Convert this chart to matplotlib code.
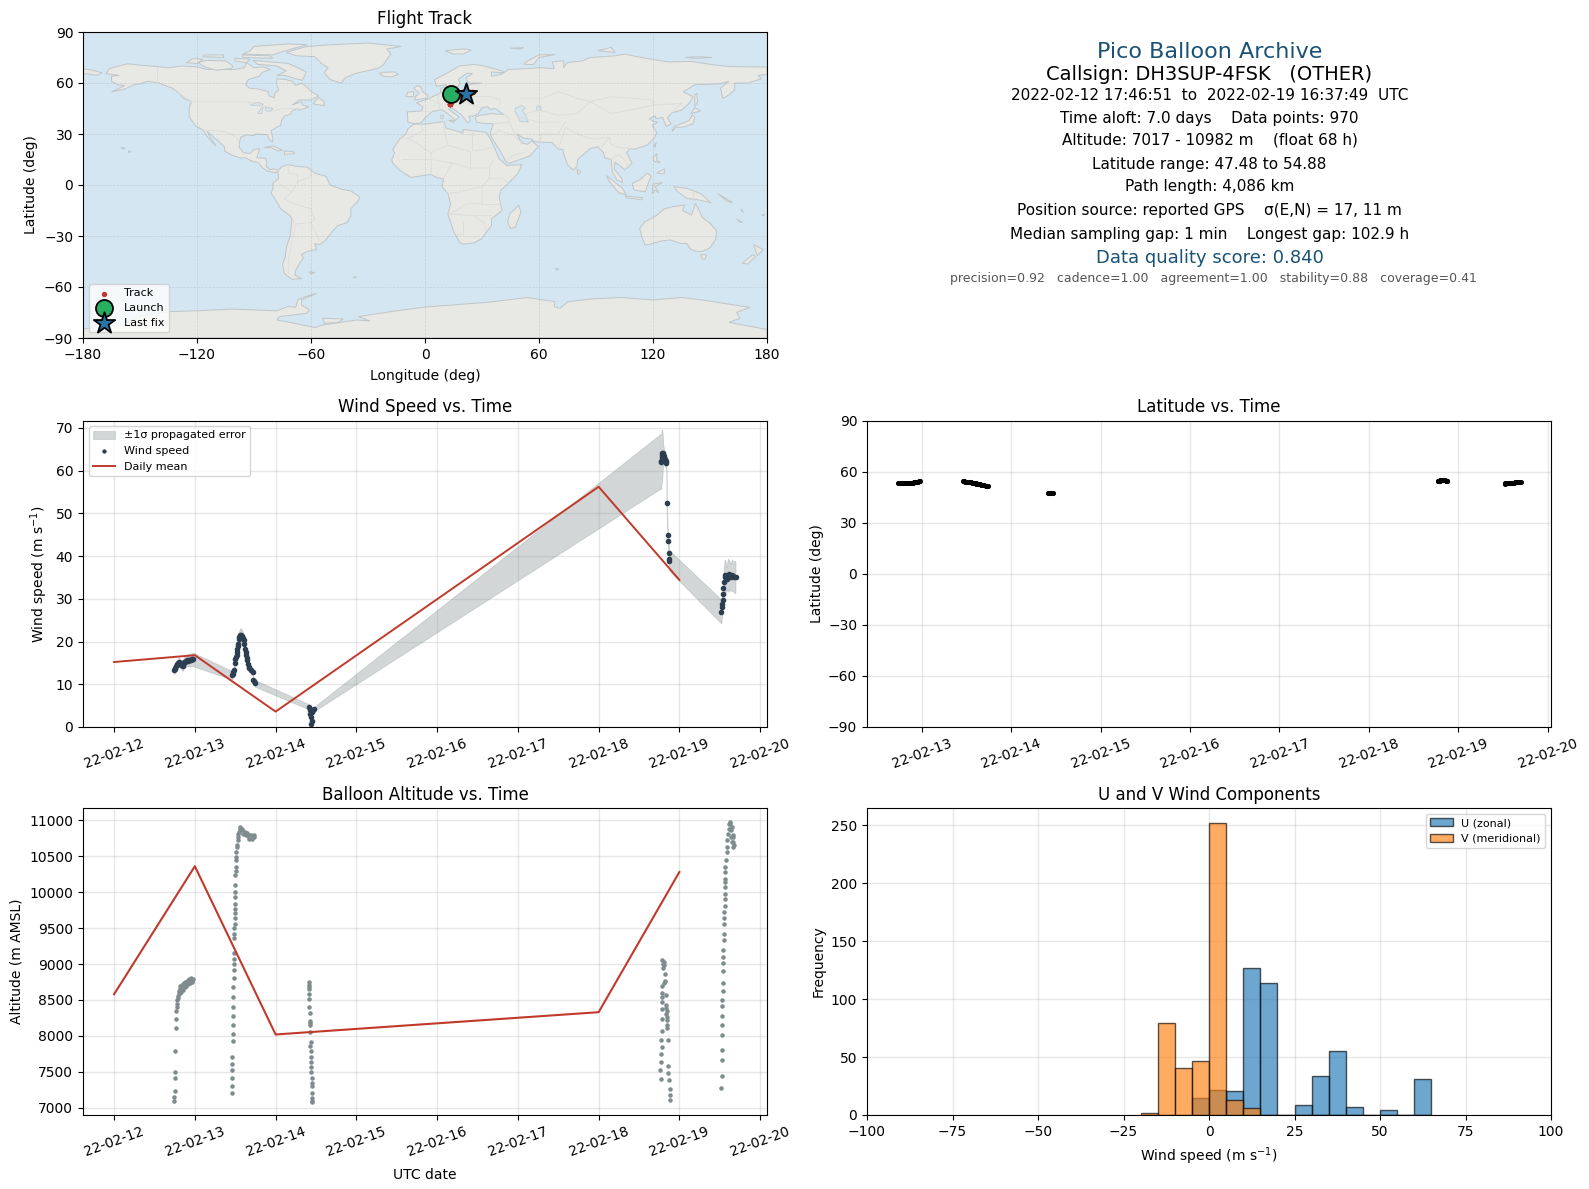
import datetime as dt
import numpy as np
import matplotlib
matplotlib.use("Agg")
import matplotlib.pyplot as plt
import matplotlib.dates as mdates
from matplotlib.patches import Polygon

# ---------- flight samples (day of February 2022) ----------
sample_days = [12.74,12.75,12.76,12.77,12.78,12.79,12.80,12.81,12.82,12.83,12.84,12.85,12.86,12.87,12.88,12.89,12.90,12.91,12.92,12.93,12.94,12.95,12.96,12.97,12.98,
               13.461,13.47,13.477,13.49,13.498,13.502,13.51,13.519,13.523,13.527,13.531,13.535,13.543,13.551,13.564,13.572,13.584,13.593,13.605,13.613,13.621,13.628,13.634,13.64,13.646,13.654,13.667,13.675,13.695,13.716,13.72,13.733,13.745,
               14.415,14.42,14.425,14.43,14.435,14.44,14.445,14.45,14.46,14.47,
               18.77,18.775,18.78,18.785,18.79,18.795,18.80,18.81,18.82,18.83,18.84,18.842,18.855,18.857,18.87,18.873,18.877,
               19.52,19.525,19.53,19.535,19.54,19.545,19.55,19.56,19.57,19.585,19.60,19.61,19.62,19.635,19.65,19.665,19.68,19.695]
wind_speed = [13.4,13.6,13.9,14.2,14.7,15.0,15.2,15.0,14.8,14.6,14.4,14.3,14.9,15.2,15.3,15.4,15.6,15.5,15.7,15.6,15.6,15.7,15.8,15.9,15.8,
              12.1,12.4,12.8,13.3,15.0,16.0,16.4,16.8,17.5,18.2,18.9,19.5,20.5,21.1,21.5,21.5,21.2,20.9,20.3,19.5,18.2,17.5,16.8,16.2,15.6,14.8,14.1,13.7,13.3,12.9,11.1,10.7,10.2,
              4.7,4.3,3.9,3.0,2.3,0.8,1.5,3.6,3.9,4.1,
              62.2,62.0,63.2,63.6,64.0,64.2,63.8,63.3,62.8,62.2,61.7,52.3,44.9,43.5,40.7,39.4,38.9,
              27.0,28.1,28.8,29.7,31.0,32.4,34.0,35.5,35.0,34.7,35.5,35.9,35.3,35.1,35.5,35.3,35.1,35.1]
wind_sigma = [1.0,1.0,1.0,1.0,1.0,1.0,1.1,1.1,1.1,1.1,1.2,1.2,1.2,1.2,1.3,1.3,1.3,1.4,1.4,1.4,1.5,1.5,1.5,1.5,1.6,
              1.0,1.0,1.0,1.1,1.1,1.2,1.2,1.2,1.2,1.3,1.3,1.3,1.4,1.5,1.6,1.6,1.5,1.4,1.3,1.3,1.2,1.2,1.1,1.1,1.1,1.0,1.0,1.0,0.9,0.9,0.8,0.8,0.8,
              0.6,0.6,0.5,0.4,0.3,0.2,0.2,0.5,0.5,0.5,
              6.4,6.4,6.2,6.0,5.2,3.8,2.5,1.6,1.6,1.5,1.4,1.4,1.3,1.3,1.8,2.4,2.4,
              2.8,2.6,2.5,2.5,2.7,3.0,3.5,3.6,4.0,2.6,3.9,3.2,3.6,3.0,3.7,3.5,3.8,3.6]
latitude = [53.4,53.4,53.4,53.3,53.4,53.4,53.4,53.3,53.4,53.4,53.4,53.4,53.4,53.4,53.5,53.5,53.5,53.6,53.6,53.7,53.8,53.9,54.0,54.2,54.3,
            54.2,54.2,54.2,54.1,54.0,54.0,54.0,53.9,53.9,53.8,53.8,53.8,53.7,53.6,53.5,53.4,53.3,53.2,53.1,53.0,52.9,52.9,52.8,52.7,52.6,52.5,52.3,52.2,52.0,51.8,51.7,51.5,51.3,
            47.5,47.5,47.5,47.5,47.5,47.5,47.6,47.6,47.6,47.6,
            54.6,54.7,54.7,54.7,54.7,54.8,54.8,54.8,54.8,54.8,54.8,54.8,54.8,54.7,54.7,54.7,54.7,
            53.0,53.1,53.2,53.2,53.3,53.3,53.4,53.4,53.4,53.5,53.5,53.5,53.5,53.6,53.6,53.6,53.6,53.7]
longitude = [13.9,13.9,14.0,14.0,14.1,14.2,14.2,14.3,14.4,14.5,14.5,14.6,14.7,14.8,14.9,15.0,15.1,15.2,15.3,15.4,15.5,15.6,15.7,15.8,15.9,
             17.5,17.6,17.6,17.7,17.7,17.8,17.8,17.9,17.9,18.0,18.0,18.1,18.2,18.3,18.4,18.5,18.6,18.7,18.8,18.9,19.0,19.0,19.1,19.1,19.2,19.3,19.4,19.5,19.6,19.7,19.8,19.9,20.0,
             13.0,13.0,13.0,13.0,13.1,13.1,13.1,13.1,13.1,13.2,
             19.0,19.4,19.8,20.2,20.6,21.0,21.4,21.8,22.2,22.6,23.0,23.2,23.8,24.0,24.6,24.8,25.0,
             18.0,18.1,18.2,18.3,18.4,18.5,18.6,18.8,19.0,19.3,19.6,19.8,20.1,20.4,20.8,21.2,21.6,21.5]

alt_days = [12.741,12.741,12.749,12.753,12.753,12.753,12.765,12.765,12.77,12.775,12.78,12.785,12.79,12.795,12.80,12.805,12.81,12.815,12.82,12.83,12.835,12.84,12.85,12.85,12.86,12.87,12.88,12.88,12.89,12.90,12.91,12.92,12.93,12.94,12.95,12.96,12.97,12.975,
            13.457,13.457,13.457,13.457,13.457,13.457,13.47,13.47,13.47,13.47,13.47,13.47,13.47,13.479,13.479,13.479,13.479,13.479,13.49,13.49,13.49,13.492,13.492,13.492,13.495,13.495,13.495,13.498,13.498,13.498,13.505,13.505,13.505,13.51,13.515,13.52,13.525,13.53,13.535,13.54,13.55,13.56,13.565,13.58,13.585,13.60,13.62,13.63,13.64,13.655,13.67,13.675,13.69,13.71,13.73,13.735,
            14.41,14.41,14.41,14.41,14.415,14.415,14.415,14.42,14.425,14.43,14.43,14.43,14.435,14.43,14.44,14.44,14.44,14.44,14.44,14.445,14.445,14.445,14.45,14.45,14.45,14.45,
            18.77,18.765,18.77,18.77,18.78,18.775,18.78,18.78,18.78,18.78,18.78,18.78,18.785,18.815,18.82,18.82,18.805,18.805,18.79,18.80,18.80,18.88,18.88,18.88,18.875,18.865,18.865,18.865,18.85,18.85,18.85,18.85,18.85,18.84,18.84,18.84,18.84,
            19.52,19.53,19.53,19.53,19.53,19.53,19.53,19.53,19.53,19.54,19.54,19.54,19.54,19.54,19.54,19.55,19.55,19.55,19.55,19.55,19.56,19.56,19.56,19.565,19.565,19.565,19.57,19.57,19.58,19.59,19.59,19.595,19.60,19.61,19.62,19.625,19.63,19.64,19.645,19.65,19.65,19.66,19.66,19.665,19.67,19.675]
altitude = [7090,7151,7234,7416,7499,7792,8112,8237,8353,8400,8440,8493,8530,8560,8590,8620,8650,8600,8690,8610,8702,8660,8720,8640,8700,8740,8680,8750,8700,8770,8720,8760,8790,8740,8800,8770,8750,8795,
            7207,7304,7416,7527,7611,7708,7931,8029,8154,8279,8405,8544,8683,8808,8911,9004,9073,9152,9366,9421,9496,9561,9644,9709,9770,9839,9932,10002,10095,10239,10294,10350,10443,10489,10559,10629,10660,10721,10760,10814,10840,10884,10900,10861,10880,10814,10840,10791,10820,10780,10745,10800,10791,10745,10791,10760,
            8748,8715,8680,8655,8586,8516,8409,8321,8214,8180,8145,8056,7912,7857,7796,7713,7634,7564,7494,7416,7207,7132,7076,7095,7300,7350,
            7402,7527,7634,7750,7847,7945,8070,8237,8377,8474,8539,8600,8697,8739,8757,8864,8980,9027,9059,9003,8950,7109,7179,7262,7388,7485,7583,7945,8112,8158,8215,8270,8344,8385,8432,8572,8300,
            7276,7443,7666,7805,8015,8154,8279,8418,8500,8627,8739,8906,9017,9101,9199,9338,9421,9561,9644,9728,9811,9909,9979,10076,10141,10187,10280,10350,10443,10559,10629,10721,10814,10884,10954,10982,10944,10861,10768,10698,10900,10629,10800,10700,10760,10660]

daily_days = [12, 13, 14, 18, 19]
daily_wind = [15.2, 16.8, 3.6, 56.2, 34.4]
daily_alt = [8580, 10360, 8020, 8330, 10280]

launch_lon, launch_lat = 13.5, 53.8
last_lon, last_lat = 21.5, 53.5

hist_edges = [-20,-15,-10,-5,0,5,10,15,20,25,30,35,40,45,50,55,60]
u_counts = [0,0,0,15,22,21,127,114,0,9,34,55,7,0,4,0,31]
v_counts = [2,79,41,47,252,13,6,0,0,0,0,0,0,0,0,0,0]

info_lines = ["Pico Balloon Archive",
              "Callsign: DH3SUP-4FSK   (OTHER)",
              "2022-02-12 17:46:51  to  2022-02-19 16:37:49  UTC",
              "Time aloft: 7.0 days    Data points: 970",
              "Altitude: 7017 - 10982 m    (float 68 h)",
              "Latitude range: 47.48 to 54.88",
              "Path length: 4,086 km",
              "Position source: reported GPS    σ(E,N) = 17, 11 m",
              "Median sampling gap: 1 min    Longest gap: 102.9 h",
              "Data quality score: 0.840",
              "precision=0.92   cadence=1.00   agreement=1.00   stability=0.88   coverage=0.41"]

# ---------- coarse land outlines, lon/lat ----------
north_america = [(-168,65.5),(-166,68.5),(-161,70),(-156.5,71.3),(-150,70.5),(-141,69.7),(-135,69),(-128,70),(-120,69.5),(-115,68),(-108,68),(-100,68),(-95,69),(-94,72),(-90,69),(-85,69.5),(-81.5,68),(-86,66),(-87,64),(-93,62),(-94.5,59),(-92.5,57),(-88,56.5),(-82.5,55),(-82,52.5),(-79.5,51.3),(-79,54),(-77,56),(-78,59),(-78,62.5),(-73,62),(-70,61),(-68,58.5),(-65,60),(-62,57.5),(-60,55),(-56,52.5),(-60,50),(-66,50),(-70,47),(-65,49),(-64.5,47),(-61,46),(-66,44),(-67,45),(-70,43.5),(-71,41.5),(-74,40.5),(-75.5,38),(-76,35),(-78,34),(-81,32),(-80,27),(-80.5,25.2),(-82,27),(-83,29.5),(-85,29.7),(-89,30),(-90,29),(-94,29.5),(-97,28),(-97.7,25),(-97.7,22),(-95.5,19),(-92,18.5),(-90.5,20.5),(-87,21.5),(-88,18),(-88.5,16),(-84,15.8),(-83.3,13),(-83.7,11),(-81.5,9),(-79.5,9.5),(-77.3,8.5),(-78,7.3),(-80,7.5),(-83,8.3),(-85.5,10),(-87.5,13),(-91,14),(-94.5,16),(-97,15.8),(-101.5,17.5),(-105.5,20),(-105.5,22.5),(-109,26),(-112.5,29.5),(-114.7,31.5),(-113,28),(-110,23),(-112,25),(-115,29),(-117,32.5),(-120.5,34.5),(-122.5,37.5),(-124.2,40.5),(-124,46),(-123,49),(-127,51),(-130,54.5),(-133,57),(-137,58.5),(-140,60),(-146,61),(-150,59.5),(-153,59),(-158,56.5),(-165,54.7),(-158,58.5),(-162,59),(-165,61),(-165,64),(-161,64.5)]
greenland = [(-73,78),(-68,76),(-58,75.5),(-54,71),(-51,69),(-53,66),(-50,62),(-44,60),(-42,63),(-37,65.5),(-25,68.5),(-22,70.5),(-20,74),(-18,77),(-20,80),(-12.5,81.5),(-30,83.5),(-50,82.5),(-62,81.5),(-67,80)]
south_america = [(-77.5,8.5),(-75,11),(-72,12),(-68,11),(-62,10.5),(-58,7),(-52,5),(-50,0),(-44,-2.5),(-39,-3.5),(-34.4,-6.9),(-35,-9),(-39,-14),(-39,-18),(-41,-22),(-46,-24),(-48.5,-27),(-52,-32),(-55,-35),(-58,-34.5),(-57,-38),(-62,-39),(-65,-41),(-64,-43),(-66,-46),(-68,-50),(-68.5,-53),(-65,-55),(-70,-55.5),(-74,-52),(-75,-47),(-73.5,-42),(-73,-37),(-71,-30),(-70,-20),(-71,-18),(-76,-14),(-79,-8),(-81,-5),(-80,-2),(-80,1),(-77,4)]
africa = [(-6,35.8),(0,35.8),(10,37.3),(11,33.5),(15,32.3),(20,30.5),(20,32.7),(25,32),(32,31),(34,28),(37,21),(39,15.5),(43,11.5),(51,12),(49,7),(44,1),(40,-3),(39,-7),(40.5,-15),(35,-20),(35,-24),(32.8,-27),(30,-31.5),(26,-34),(20,-34.8),(18.3,-34),(15,-27),(12,-17),(13.5,-11),(12,-5),(9,-1),(9.7,3.5),(6,4.5),(3,6.3),(-4,5),(-7.5,4.5),(-13,8.5),(-16.8,12.5),(-17.5,14.7),(-16,19),(-17,21),(-13,27.5),(-10,30),(-9,33)]
eurasia = [(-9,37),(-9.3,43),(-2,43.5),(-1,46),(-4.5,48.5),(1.5,50.5),(4,52),(8,54),(8.5,57),(10.5,57.5),(10,54.5),(14,54),(19,54.5),(21,57),(24,59.3),(30,60),(23,60),(21.5,63),(25,65.5),(22,65.8),(17.5,62),(18.5,60),(16.5,56.5),(13,55.5),(11,59),(6,58),(5,62),(12,66),(18,70),(26,71),(31,70),(41,67),(41,66),(35,66.5),(35,64),(40,65),(44,68),(54,68.5),(60,69),(68,68.5),(67,72.5),(73,73),(73,69),(75,72),(83,73),(87,75),(100,76),(105,77),(114,75),(128,72.4),(140,72.7),(150,71),(160,69.7),(170,69.5),(180,69.4),(180,65),(175.4,64.5),(177,62.5),(170,60),(163,60),(163,56),(160,53),(156.7,51),(155.5,57),(160,61),(155,59.5),(142,59),(136,54.7),(141,52),(139,48),(135,44),(130,42.5),(127.5,39.5),(129.5,36),(127,34.5),(126,37),(125,39.8),(121.5,39),(121,40.7),(118,39),(120,37.5),(122.5,37),(119.5,35),(122,31),(121,28),(117,23.5),(110,21),(108,21.5),(106,19),(109,13),(107,10.5),(105,9),(103,11),(100,13.5),(99.5,9.5),(103.5,4),(104,1.5),(101,3),(98.5,8),(98,15),(94.5,16),(94,19),(91,22.5),(87,21.5),(85,19.5),(80.3,15),(80,11),(78,8.7),(75,12),(73,18),(72.5,21),(70,21),(67,25),(61,25.2),(57,25.5),(56.5,27),(52,27.5),(48.5,30),(50,26.5),(51.5,24.5),(54,24),(56.3,26),(59.7,22.5),(55,17),(45,13),(43,13),(39,21),(35,28),(34.5,31),(36,36),(30,36.3),(27,37),(26.5,40),(29,41),(35,42),(41.5,41.5),(37,45),(34,44.5),(33,46),(30,45.5),(28,42),(26,40.7),(23,40.5),(24,38),(22.5,36.5),(19.5,41),(14,45.5),(12.5,44.5),(18,40),(16,38),(12,42),(9,44.3),(4,43.3),(0,39.5),(-2,36.7),(-5.5,36)]
chukotka = [(-180,68.4),(-175,67.5),(-170,66),(-173,64.5),(-178,65.5),(-180,65)]
australia = [(113,-25.5),(115.8,-21.6),(121,-18.6),(126,-14),(130.7,-12.7),(136.8,-11.8),(135.5,-15),(140.3,-17.6),(142.4,-10.8),(146,-19),(150,-22.5),(153.5,-27),(153,-32),(150,-37),(146,-39),(143.8,-39.2),(140,-38),(137.7,-34.3),(135,-34.5),(129,-32.3),(124,-33),(118,-35),(115.8,-35.3),(114,-30)]
antarctica = [(-180,-84.7),(-158,-82),(-150,-77),(-134.4,-74.5),(-120,-74),(-101,-73),(-78,-74),(-72,-71.5),(-68,-72),(-67,-67.6),(-63,-65.7),(-57,-63.7),(-65,-67.6),(-65,-70.6),(-60.7,-73.5),(-62.5,-75.5),(-76.5,-77.4),(-78,-79.4),(-73,-80.4),(-58,-83.9),(-53.7,-82.3),(-36,-79.4),(-29,-80),(-35,-77.4),(-15,-74),(0,-71.8),(33,-69),(54,-66.2),(68.4,-68.6),(68,-71.5),(71,-72.5),(75.4,-68.6),(87.7,-67),(103.5,-66.2),(120,-67.6),(135,-66.2),(145.6,-67.6),(171,-72),(164,-74.9),(165.8,-78.4),(160,-80.8),(180,-85),(180,-90),(-180,-90)]
islands = [
 [(-54,-78.4),(-43,-78.8),(-46,-81),(-53,-81.3)],
 [(-90.5,73.3),(-72,71.5),(-67,69),(-62.5,66.5),(-64.5,61.6),(-68,62.5),(-74,64.5),(-78,64.5),(-73,67),(-78,70),(-88,71)],
 [(-102,68.5),(-101,70),(-105,73),(-115,73.3),(-119.5,72),(-116,69.5),(-110,67.5)],
 [(-125.6,72),(-120,71.4),(-117,74),(-122,74.4)],
 [(-96,77),(-80,76.5),(-75,78.5),(-62,82.5),(-72,83),(-90,81.5),(-92,79)],
 [(-96,75),(-80,74.5),(-82,76),(-96,76.5)],
 [(-100,73),(-94,72),(-92,74),(-100,74.5)],
 [(-117,75.5),(-106,75),(-106,76.5),(-116,76.5)],
 [(-59,47.7),(-53,46.7),(-53,49),(-56,51.5)],
 [(-24,65.5),(-22,64),(-18,63.5),(-14,65),(-16,66.5),(-22,66.3)],
 [(49.3,-12),(50.5,-16),(47.5,-25),(45,-25.5),(43.5,-22),(44.5,-17)],
 [(-5.5,50),(1,51),(1.7,52.8),(-1.5,55),(-2,57.5),(-4,58.5),(-6,57),(-3,54),(-5,52)],
 [(-10,52),(-6,52),(-6,55),(-9,54.5)],
 [(130,31.5),(132,34),(136,34),(141,36),(142,40),(140.5,41),(139,38),(136,36.5),(131,34.5)],
 [(140,42),(145,43.5),(142,45.5)],
 [(142,46),(143.5,49),(143,54),(142,53)],
 [(120.3,23),(121.7,25),(121,22)],
 [(120,16),(122,18.5),(122,14.5),(124,13),(120.5,14)],
 [(122,7),(126,9.5),(126,6.5)],
 [(109,1),(113,3),(117,7),(119,5),(117.5,1),(116,-4),(110,-3)],
 [(95.5,5.5),(104,-2),(106,-6),(102,-4.5),(97,2)],
 [(105.5,-6.5),(114.5,-7.5),(114,-8.7),(106,-7.5)],
 [(119.5,-5),(120,0.5),(125,1.5),(121,-1),(123,-4.5),(121,-3)],
 [(131,-1),(138,-2),(145,-5),(150.5,-10.5),(143,-8.5),(138,-8),(133,-4)],
 [(145,-41),(148,-41),(147.5,-43.5),(146,-43.5)],
 [(173,-35),(178,-38),(175,-41.5),(174,-39)],
 [(172.5,-41),(174,-42),(170,-46.5),(167,-46)],
 [(80,9.5),(82,7.5),(80.5,6)],
 [(-85,22),(-80,23),(-75,20.5),(-77.5,20),(-81,22)],
 [(-74,20),(-69,19.5),(-68.5,18.5),(-74,18)],
 [(10.5,79),(20,80),(24.5,79.5),(20,77),(15,77)],
 [(52,71),(57,70.8),(60,75),(68.4,76.7),(60,76.5),(54,73)],
 [(91,79),(100,78),(98,81)],
 [(45,80.5),(52,80.8),(50,80)],
 [(137,75),(144,75.5),(151,75),(143,74.5)],
 [(12.5,38),(15.5,38),(15,36.7)],
 [(8.3,41),(9.7,41),(9.5,39),(8.5,39)],
 [(-61,-51),(-58,-51.5),(-60,-52.3)],
 [(-38,-54),(-36,-54.2),(-37,-54.8)],
 [(-156,20.2),(-154.8,19.6),(-155.8,18.9)],
 [(-160,22.2),(-157.8,21.6),(-159,21.2)],
 [(154,-5),(162,-10.5),(159,-9.5)],
 [(166.3,-14),(167.5,-16),(166.8,-15.5)],
 [(164,-20),(167,-22),(165.5,-21.8)],
 [(177.3,-17.5),(178.7,-17.3),(178,-18.2)],
 [(68.5,-49),(70.5,-49.5),(69.3,-50)],
]
inland_water = [
 [(47.4,45),(51,46.9),(53,45),(51,44),(53,41),(54.4,37),(50,37.5),(49,40),(47.4,43)],
 [(-92,47),(-88,48.7),(-85,47.5),(-87,46.5)],
 [(-88,42),(-86,45.5),(-85,46),(-86,42)],
 [(-84,46),(-80,45),(-82,43),(-84,44)],
 [(59,46.5),(61,46),(61,44),(58.5,44)],
]
borders = [
 [(-141,69.7),(-141,60)],[(-130,54.5),(-123,49),(-95,49),(-88,48),(-82,43),(-75,45),(-67,45)],
 [(-117,32.5),(-106,31.5),(-101,29.5),(-97.5,26)],
 [(-70,-20),(-68,-23),(-70,-33),(-72,-45),(-72,-52)],[(-68,-23),(-60,-22),(-58,-27),(-55,-34)],
 [(-77,1),(-70,-4),(-74,-8),(-69,-11),(-60,-14),(-58,-20),(-60,-22)],
 [(-70,-4),(-67,2),(-60,5),(-60,8)],[(-72,12),(-72,7),(-67,6),(-67,2)],
 [(-13,27.5),(-8.7,27.5),(-1,32),(-2,35.5)],[(-8.7,27.5),(3,19),(12,23.5),(10,32),(10,37)],
 [(25,32),(25,20),(37,22)],[(12,23.5),(24,19.5),(24,10),(34,10),(36,15)],
 [(-12,15),(3,15),(14,13),(24,10)],[(3,19),(3,6.3)],[(14,13),(9.7,3.5)],
 [(12,-5),(18,-4),(30,-1),(30,-11),(22,-11),(13.5,-17)],[(30,-1),(34,4),(34,10)],[(34,4),(41,4),(44,1)],
 [(12,-17),(25,-18),(35,-18)],[(20,-22),(20,-29),(17,-29)],[(25,-18),(31,-22),(32,-27)],[(30,-11),(40,-11)],
 [(3,43),(-2,43.5)],[(2,50.8),(8,47.5),(7,44)],[(7,54),(7,50),(8,47.5)],[(14,54),(15,51),(23,49),(24,52),(23,54.3)],
 [(13,47),(16,48.5),(22,48.3),(29,45.5)],[(23,54),(28,56),(28,60)],[(24,52),(34,52),(40,50),(39,47)],
 [(41,42),(44,39.5),(44.5,37),(39,36.5),(36,36)],[(44.5,37),(46,33),(48,30)],[(39,32),(36,29.5)],[(39,32),(47,29),(51,24.5)],[(52,19),(45,17),(43,13)],
 [(49,40),(60,37),(66,37),(71,37)],[(50,51),(62,51),(70,55),(80,51),(87,49)],[(53,42),(60,44),(70,41),(80,42),(87,49)],
 [(87,49),(98,42),(112,45),(120,47),(135,48),(130,42.5)],[(98,52),(87,49)],[(98,52),(120,50),(120,47)],
 [(61,25),(61,30),(70,30),(74,37)],[(70,21),(74,34),(80,30),(88,27),(97,28),(94,24),(92,21)],[(97,28),(98,24),(102,22),(108,21.5)],
 [(98,15),(102,18),(105,15),(107,11)],[(141,-2.5),(141,-9)],
]

# ---------- figure ----------
W, H = 1589, 1189
DPI = 100
RED = "#c0392b"
NAVY = "#2c3e50"
GREY = "#7f8c8d"
TITLE_BLUE = "#1a5276"
plt.rcParams.update({"font.family": "DejaVu Sans", "font.size": 10})
fig = plt.figure(figsize=(W/DPI, H/DPI), dpi=DPI)

def place(left, right, top, bottom):
    return fig.add_axes([left/W, 1-bottom/H, (right-left)/W, (bottom-top)/H])

def to_dates(days):
    return [dt.datetime(2022,2,1) + dt.timedelta(days=float(d)-1) for d in days]

def date_axis(ax, lo, hi):
    ax.set_xlim(to_dates([lo])[0], to_dates([hi])[0])
    ax.xaxis.set_major_locator(mdates.DayLocator())
    ax.xaxis.set_major_formatter(mdates.DateFormatter("%y-%m-%d"))
    ax.tick_params(axis="x", labelrotation=20)
    ax.grid(True, color="#b0b0b0", alpha=0.3, lw=1)
    ax.set_axisbelow(True)

# Map
ax = place(83, 767, 32, 338)
ax.set_facecolor("#d4e6f1")
for poly in [north_america, greenland, south_america, africa, eurasia, chukotka, australia, antarctica] + islands:
    ax.add_patch(Polygon(poly, closed=True, facecolor="#e8e8e4", edgecolor="#c0c6c8", lw=0.7, zorder=1))
for poly in inland_water:
    ax.add_patch(Polygon(poly, closed=True, facecolor="#d4e6f1", edgecolor="#c0c6c8", lw=0.5, zorder=1.1))
for line in borders:
    xs, ys = zip(*line)
    ax.plot(xs, ys, color="#dcdcd8", lw=0.6, zorder=1.2)
ax.set_xlim(-180, 180)
ax.set_ylim(-90, 90)
ax.set_xticks(range(-180, 181, 60))
ax.set_yticks(range(-90, 91, 30))
ax.grid(True, color="#9aa5ab", alpha=0.35, lw=0.5, ls="--")
ax.set_axisbelow("line")
ax.scatter(longitude, latitude, s=8, color=RED, zorder=3, label="Track")
ax.scatter([launch_lon], [launch_lat], s=150, color="#27ae60", edgecolor="black", lw=1.3, zorder=4, label="Launch")
ax.scatter([last_lon], [last_lat], s=260, marker="*", color="#2874a6", edgecolor="black", lw=1.3, zorder=5, label="Last fix")
ax.legend(loc="lower left", fontsize=8, framealpha=0.8, borderaxespad=0.5, labelspacing=0.43)
ax.set_title("Flight Track", fontsize=12)
ax.set_xlabel("Longitude (deg)", labelpad=5)
ax.set_ylabel("Latitude (deg)")

# Info panel
info_styles = [(16, TITLE_BLUE, 1209.5, 52), (14, "black", 1209.5, 75), (11, "black", 1209.5, 96), (11, "black", 1209.5, 118), (11, "black", 1209.5, 140),
               (11, "black", 1209.5, 164), (11, "black", 1209.5, 187), (11, "black", 1209.5, 211), (11, "black", 1209.5, 234), (13, TITLE_BLUE, 1209.5, 258), (9, "#555555", 1213.5, 279)]
for line, (size, color, xpix, ypix) in zip(info_lines, info_styles):
    fig.text(xpix/W, 1-ypix/H, line, ha="center", va="center", fontsize=size, color=color)

# Wind speed
ax = place(83, 767, 420.5, 727)
t = to_dates(sample_days)
v = np.array(wind_speed)
s = np.array(wind_sigma)
ax.fill_between(t, v-s, v+s, color=GREY, alpha=0.35, lw=0.5, label="±1σ propagated error", zorder=2)
ax.scatter(t, v, s=9, color=NAVY, label="Wind speed", zorder=3)
ax.plot(to_dates(daily_days), daily_wind, color=RED, lw=1.4, label="Daily mean", zorder=4)
date_axis(ax, 11.615, 20.085)
ax.set_ylim(0, 71.7)
ax.set_title("Wind Speed vs. Time", fontsize=12)
ax.set_ylabel("Wind speed (m s$^{-1}$)")
ax.legend(loc="upper left", fontsize=8, markerscale=0.7)

# Latitude
ax = place(867, 1551, 420.5, 727)
ax.scatter(t, latitude, s=7, color="black", zorder=3)
date_axis(ax, 12.39, 20.035)
ax.set_ylim(-90, 90)
ax.set_yticks(range(-90, 91, 30))
ax.set_title("Latitude vs. Time", fontsize=12)
ax.set_ylabel("Latitude (deg)", labelpad=3)

# Altitude
ax = place(83, 767, 808, 1115)
ax.scatter(to_dates(alt_days), altitude, s=5, color=GREY, zorder=3)
ax.plot(to_dates(daily_days), daily_alt, color=RED, lw=1.5, zorder=4)
date_axis(ax, 11.615, 20.085)
ax.set_ylim(6900, 11170)
ax.set_yticks(range(7000, 11001, 500))
ax.set_title("Balloon Altitude vs. Time", fontsize=12)
ax.set_ylabel("Altitude (m AMSL)")
ax.set_xlabel("UTC date", labelpad=6)

# Histogram
ax = place(867, 1551, 808, 1115)
ax.bar(hist_edges, u_counts, width=5, align="edge", color="#1f77b4", alpha=0.65, edgecolor="black", lw=1, label="U (zonal)", zorder=3)
ax.bar(hist_edges, v_counts, width=5, align="edge", color="#ff7f0e", alpha=0.65, edgecolor="black", lw=1, label="V (meridional)", zorder=3)
ax.set_xlim(-100, 100)
ax.set_ylim(0, 265)
ax.grid(True, color="#b0b0b0", alpha=0.3, lw=1)
ax.set_axisbelow(True)
ax.set_title("U and V Wind Components", fontsize=12)
ax.set_xlabel("Wind speed (m s$^{-1}$)", labelpad=5)
ax.set_ylabel("Frequency")
ax.legend(loc="upper right", fontsize=8)

fig.savefig("out.png", dpi=DPI)
